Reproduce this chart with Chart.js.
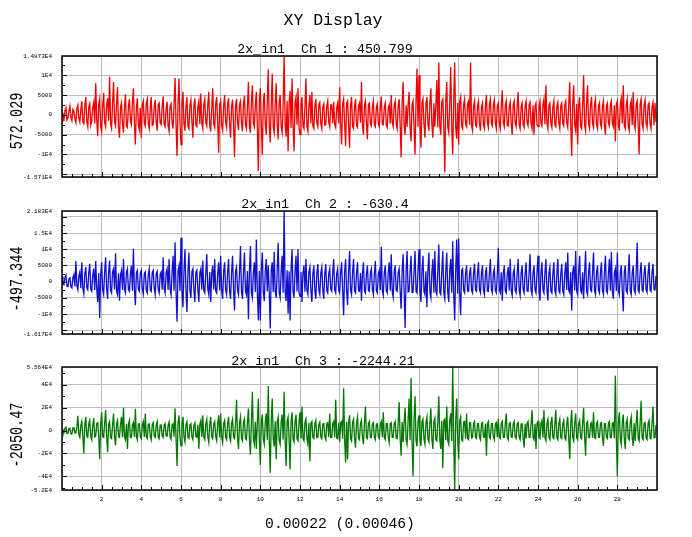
<!DOCTYPE html>
<html>
<head>
<meta charset="utf-8">
<script src="https://cdn.jsdelivr.net/npm/chart.js@4.4.1/dist/chart.umd.min.js"></script>
<style>
html, body { margin: 0; padding: 0; background: #fff; }
#wrap { position: relative; width: 692px; height: 537px; overflow: hidden; }
canvas { position: absolute; left: 0; top: 0; }
.t { position: absolute; font-family: "Liberation Mono", "DejaVu Sans Mono", monospace; color: #000; white-space: pre; transform: translate(-50%, -50%); }
.r { transform: translate(-50%, -50%) rotate(-90deg) scaleY(1.3); }
</style>
</head>
<body>
<div id="wrap">
<canvas id="c1" width="692" height="537"></canvas>
<canvas id="c2" width="692" height="537"></canvas>
<canvas id="c3" width="692" height="537"></canvas>
<div class="t" style="left:333px;top:20px;font-size:16.5px">XY Display</div>
<div class="t" style="left:325px;top:49px;font-size:13.3px">2x_in1  Ch 1 : 450.799</div>
<div class="t" style="left:325px;top:204px;font-size:13.3px">2x_in1  Ch 2 : -630.4</div>
<div class="t" style="left:323px;top:361px;font-size:13.3px">2x_in1  Ch 3 : -2244.21</div>
<div class="t r" style="left:17px;top:121px;font-size:13.5px">572.029</div>
<div class="t r" style="left:17px;top:279px;font-size:13.5px">-497.344</div>
<div class="t r" style="left:17px;top:435px;font-size:13.5px">-2050.47</div>
<div class="t" style="left:340px;top:524px;font-size:14.7px">0.00022 (0.00046)</div>
</div>
<script>
// sample spacing on the x axis, 600 samples per channel
const sampleStep = 0.05;

// x axis grid / labels (bottom panel only shows labels)
const xTicks = [0, 2, 4, 6, 8, 10, 12, 14, 16, 18, 20, 22, 24, 26, 28, 30];
const xTickLabels = ['', '2', '4', '6', '8', '10', '12', '14', '16', '18', '20', '22', '24', '26', '28', ''];

// channel values, in thousands (one row = one x unit)
const ch1 = [
	0.5,-0.6,-1.2,1.0,1.8,-1.3,-0.8,0.9,2.2,-0.7,-1.5,1.4,1.0,-1.1,-2.0,1.6,2.5,-0.9,-1.8,1.2,
	3.5,-1.8,-2.2,2.4,4.5,-1.6,-3.0,2.0,2.8,-2.6,-1.5,1.9,3.2,-2.2,8.0,-1.0,-5.4,2.5,4.0,-2.8,
	-4.2,2.2,5.5,-2.0,-3.0,2.6,4.2,-1.5,9.6,-2.4,-3.5,3.0,8.3,-1.8,-2.8,2.7,7.0,-3.2,-5.8,2.0,
	3.0,-2.4,-4.5,1.9,5.2,-2.8,-3.2,2.3,4.0,-1.7,-2.5,3.1,6.7,-2.2,-7.5,2.0,4.2,-2.6,-3.8,1.8,
	-5.8,2.5,3.5,-2.0,-2.8,2.9,4.0,-2.3,-3.5,1.8,4.5,-2.7,-2.5,2.2,3.8,-1.9,-4.0,2.6,3.0,-2.1,
	-2.5,2.0,4.6,-2.4,-3.0,1.7,3.3,-2.8,-4.2,2.3,2.8,-1.9,-3.5,2.6,9.3,-2.5,-10.4,3.0,9.2,-2.2,
	-7.5,2.8,5.8,-2.3,-4.0,2.1,4.5,-2.9,-3.5,2.4,3.8,-1.8,-5.8,2.5,4.2,-2.6,-3.0,2.0,3.5,-2.4,
	5.4,-2.1,-3.5,2.7,4.0,-1.9,-2.8,2.4,5.8,-2.6,-4.2,2.0,6.7,-2.3,-3.2,2.8,4.5,-2.2,-9.6,2.5,
	3.5,-2.7,-4.0,2.2,5.0,-1.8,-3.2,2.6,4.2,-2.4,-5.8,2.1,3.8,-2.9,-10.7,2.3,4.0,-2.0,-3.8,2.6,
	3.5,-2.2,-4.2,2.9,4.8,-2.5,-3.5,2.0,8.3,-2.8,-4.5,3.2,7.5,-2.1,-3.0,2.7,5.8,-3.0,-14.2,3.4,
	6.7,-2.6,-10.0,3.0,5.5,-2.4,-5.0,3.3,11.5,-2.9,-7.0,2.5,10.4,-3.1,-4.5,2.8,8.0,-2.6,-6.2,3.2,
	5.0,-3.0,-4.5,2.6,15.0,-2.4,-5.5,3.5,-9.2,2.9,6.0,-3.3,9.2,-2.7,-9.2,3.1,4.5,-2.5,6.7,-3.0,
	-5.0,2.6,4.5,-2.8,-3.5,2.2,9.2,-3.0,-4.2,2.5,5.0,-2.2,5.8,-2.9,-3.5,2.4,4.0,-2.1,-3.0,2.7,
	3.2,-2.3,-3.5,2.0,2.8,-2.6,-2.5,2.2,3.5,-1.9,-3.0,2.5,2.5,-2.1,3.3,-2.4,-3.2,1.8,3.0,-2.2,
	7.0,-2.5,-7.5,2.8,4.0,-2.2,-7.9,3.0,3.5,-2.6,-8.3,2.4,4.5,-2.9,-3.5,2.1,4.0,-2.7,-3.2,2.3,
	3.0,-2.0,8.3,-2.6,-5.0,2.4,3.5,-2.1,-6.2,2.7,3.0,-2.3,-2.8,2.0,3.5,-2.5,-3.0,1.9,2.8,-2.2,
	-3.0,2.1,4.6,-2.4,-2.5,2.0,3.0,-2.6,-3.2,1.8,2.5,-2.2,5.0,-2.0,-3.0,2.5,3.5,-2.3,-3.5,2.2,
	4.0,-2.6,-10.8,3.0,8.3,-2.8,-5.0,2.4,-3.0,2.6,5.8,-3.1,-6.7,2.5,3.5,-2.9,-10.0,3.2,11.7,-3.0,
	10.0,-2.7,-8.3,3.1,4.0,-2.5,-5.8,2.8,4.5,-2.4,-4.0,3.0,6.7,-2.6,-5.8,2.9,-3.0,2.4,8.8,-3.2,
	13.2,-3.0,-5.0,3.3,4.0,-2.7,-14.6,3.5,8.3,-3.1,-4.5,2.8,12.1,-3.4,-10.0,3.6,13.2,-3.2,-6.0,3.0,
	-7.5,3.2,4.5,-2.8,-3.5,2.6,4.0,-2.4,-3.0,2.9,3.5,-2.5,13.2,-2.7,-4.0,2.3,3.5,-2.6,-3.0,2.2,
	3.5,-2.4,-4.0,2.0,3.0,-2.6,-3.5,2.3,5.0,-2.1,-3.2,2.7,4.0,-2.2,-2.8,2.5,3.8,-2.0,-3.5,2.4,
	3.0,-2.2,-3.5,2.6,6.2,-2.0,-3.0,2.4,3.5,-2.7,-2.8,2.1,3.2,-2.3,-5.0,2.5,3.5,-2.1,-3.0,2.3,
	5.8,-2.4,-3.5,2.0,3.0,-2.5,-3.2,2.2,3.5,-2.0,-2.8,2.6,3.2,-2.2,-3.5,2.4,-5.0,2.1,3.0,-2.5,
	-3.0,2.3,3.5,-2.1,-2.8,2.6,4.0,-2.4,7.5,-2.0,-3.5,2.5,3.0,-2.2,-3.2,2.0,3.5,-2.6,-3.0,2.3,
	3.2,-2.1,-3.5,2.4,3.0,-2.2,-2.8,2.6,3.5,-2.0,-3.2,2.7,8.3,-2.4,-10.4,3.0,7.5,-2.6,-4.0,2.8,
	-7.5,2.5,4.5,-2.9,-3.5,2.3,10.0,-2.6,-4.0,3.0,7.5,-2.4,-3.5,2.7,4.5,-2.2,-3.2,2.6,4.0,-2.5,
	-3.5,2.2,3.0,-2.4,-3.2,2.0,3.5,-2.6,-5.0,2.3,3.0,-2.1,-2.8,2.5,3.5,-2.2,-3.0,2.4,-6.7,2.6,
	3.5,-2.4,-4.0,2.8,4.2,-2.2,7.5,-2.7,-3.5,2.5,4.0,-2.9,-4.0,2.4,3.5,-2.6,5.8,-2.3,-3.5,2.7,
	3.5,-2.5,-10.0,2.9,4.0,-2.3,-3.5,2.6,3.8,-2.1,-3.2,2.5,3.0,-2.4,-3.5,2.2,3.2,-2.6,3.0,-1.8
];

const ch2 = [
	1.5,-0.8,-1.0,1.2,2.0,-1.4,-1.5,0.9,1.2,-1.6,-2.0,1.3,2.2,-1.5,6.4,-1.2,-2.5,1.8,3.0,-2.0,
	6.0,-2.2,-3.8,2.5,4.5,-1.9,-2.5,2.8,5.5,-2.4,-3.0,2.0,4.0,-2.6,6.4,-2.1,-6.3,2.7,-11.2,2.4,
	6.0,-2.5,-4.0,3.0,7.5,-2.2,-5.3,2.8,6.5,-2.7,-3.5,3.2,4.0,-2.4,8.8,-2.9,-4.0,2.6,-5.9,2.2,
	3.5,-2.6,7.0,-2.3,-3.5,2.9,4.0,-2.5,-3.0,2.4,5.0,-2.8,10.2,-2.2,-7.3,2.7,3.5,-2.4,-3.0,2.6,
	3.5,-2.3,-3.8,2.5,3.0,-2.7,-3.5,2.2,4.0,-2.6,-3.0,2.8,3.5,-2.1,-4.0,2.5,3.2,-2.4,-3.5,2.3,
	3.0,-2.5,7.5,-2.2,-3.5,2.9,4.0,-2.6,7.0,-2.3,-4.0,3.0,8.0,-2.8,12.2,-3.0,-12.4,3.3,5.0,-2.9,
	13.6,-3.1,-7.9,3.4,10.0,-3.0,-9.4,3.2,9.0,-2.8,-5.0,3.1,4.0,-2.7,-6.3,2.9,3.5,-2.6,-6.3,2.8,
	4.0,-2.5,6.5,-2.8,-3.5,2.6,8.5,-2.3,-4.0,3.0,-6.3,2.7,5.0,-2.5,7.0,-2.9,-3.5,2.4,6.0,-2.7,
	8.0,-2.9,-5.3,3.1,6.0,-2.6,-4.0,2.8,7.0,-3.0,-5.3,2.7,8.0,-2.5,-8.9,3.2,4.5,-2.8,-4.0,2.9,
	11.0,-3.2,-5.3,3.0,9.0,-2.9,-4.0,3.3,-11.6,3.1,11.0,-3.4,-5.0,3.0,6.0,-3.2,13.0,-3.5,-12.0,3.3,
	-12.0,3.6,9.0,-3.1,-6.0,3.4,7.0,-3.0,5.0,-3.3,-14.5,3.5,6.0,-3.2,9.2,-3.0,-5.0,3.4,12.0,-3.3,
	-5.0,3.1,8.0,-3.4,22.0,-3.0,-6.0,3.5,-9.9,3.2,-12.0,3.6,10.0,-3.1,-5.0,3.3,8.0,-3.0,10.0,-3.4,
	-4.5,3.0,-6.3,2.8,5.0,-3.1,7.0,-2.7,-4.0,3.0,4.5,-2.9,-6.3,2.6,5.0,-3.0,-5.3,2.8,5.4,-2.6,
	-4.0,2.7,4.5,-2.9,-5.3,2.5,5.4,-2.8,-3.5,2.6,4.0,-2.4,-3.0,2.9,7.0,-2.6,-3.5,2.5,4.0,-2.7,
	-3.5,2.9,6.0,-2.6,-10.4,3.0,7.0,-2.8,-7.3,3.1,9.5,-2.7,-4.0,3.0,7.0,-2.9,-3.5,2.6,6.0,-2.8,
	-3.0,2.7,-5.9,2.5,6.0,-2.9,-3.5,2.4,5.0,-2.7,-3.0,2.8,4.0,-2.5,-4.0,2.6,6.4,-2.8,-3.5,2.5,
	3.5,-2.6,10.8,-2.9,-4.3,3.0,5.0,-2.7,-3.5,2.9,6.0,-2.8,8.5,-3.0,-4.8,3.1,5.0,-2.7,-3.0,2.9,
	4.0,-3.0,-8.4,3.2,8.5,-3.1,-14.3,3.4,9.5,-3.2,-3.0,3.0,8.0,-3.3,-3.3,3.1,9.5,-3.0,-3.5,3.3,
	10.0,-3.2,-6.3,3.4,8.0,-3.0,-4.0,3.2,-7.9,3.5,9.0,-3.3,-5.0,3.1,7.0,-3.4,9.5,-3.1,-4.0,3.3,
	11.5,-3.4,-4.0,3.2,9.5,-3.5,-5.3,3.3,9.0,-3.2,-6.3,3.6,7.0,-3.4,12.5,-3.6,-12.0,3.5,13.0,-3.7,
	13.3,-3.4,-10.4,3.5,4.0,-2.8,-3.5,2.6,5.0,-2.9,-3.0,2.5,4.5,-2.7,-3.5,2.8,5.5,-2.6,-3.0,2.7,
	6.0,-2.5,-3.5,2.8,5.0,-2.6,-4.0,2.4,4.5,-2.9,-3.0,2.6,7.0,-2.5,-3.5,2.7,4.0,-2.8,-3.5,2.5,
	10.5,-2.7,-3.5,2.9,-5.9,2.6,5.0,-2.8,-3.5,2.5,4.5,-2.7,7.0,-2.9,-4.3,2.6,4.0,-2.8,-3.5,2.7,
	7.0,-2.6,-4.3,2.8,5.0,-2.5,-3.5,2.7,6.0,-2.9,-3.0,2.6,8.5,-2.8,-4.0,2.7,5.0,-2.6,-3.5,2.9,
	8.0,-2.7,-5.9,2.9,6.0,-2.6,-3.5,2.8,7.0,-2.5,-5.9,2.7,4.5,-2.9,-3.5,2.6,6.0,-2.8,-4.0,2.5,
	7.0,-2.8,-3.5,2.6,5.5,-2.9,-4.0,2.7,6.0,-2.6,9.0,-2.8,-3.5,2.9,-8.9,3.0,5.0,-2.7,9.5,-2.9,
	-4.0,3.0,8.0,-2.8,-3.5,2.9,-5.3,2.7,9.5,-3.0,-4.0,2.8,6.0,-2.6,-3.0,2.9,9.0,-2.7,-4.0,2.8,
	5.0,-2.6,-3.5,2.9,6.0,-2.7,-4.0,2.8,8.0,-2.9,-3.5,2.6,7.0,-2.8,9.2,-3.0,-5.3,2.7,4.0,-2.9,
	9.0,-2.8,-4.0,2.9,5.0,-2.7,-9.2,3.0,5.0,-2.8,-3.5,2.6,8.5,-2.9,-4.0,2.7,5.0,-2.6,-3.5,2.8,
	12.0,-2.7,-3.3,2.9,6.0,-2.6,-3.0,2.8,5.0,-2.5,-3.3,2.7,6.0,-2.6,-3.0,2.8,5.5,-2.4,-2.5,1.8
];

const ch3 = [
	1.5,-1.8,-2.0,2.2,3.0,-2.6,-2.5,2.0,2.0,-2.9,-3.0,2.4,2.5,-2.1,-2.0,2.8,13.0,-3.5,-6.0,4.5,
	8.0,-5.0,-20.0,5.5,12.0,-4.8,-6.0,6.0,9.0,-5.2,-8.0,4.6,11.0,-5.5,-5.0,6.2,7.0,-4.9,-25.0,5.8,
	16.0,-5.4,-6.0,6.1,18.0,-5.0,-19.0,5.6,8.0,-6.2,-7.0,5.1,15.0,-5.7,-13.0,6.0,9.0,-5.3,-6.0,5.5,
	12.0,-5.8,20.0,-5.2,-8.0,6.0,-16.0,5.4,9.0,-5.9,-6.0,5.2,7.0,-5.6,19.0,-5.1,-8.0,5.8,6.0,-5.4,
	-7.0,5.0,8.0,-5.6,15.0,-5.2,-7.0,5.5,6.0,-4.8,-8.0,5.3,7.0,-5.0,-6.0,4.7,8.0,-5.4,-7.0,4.9,
	5.0,-4.6,-6.0,5.0,6.0,-4.8,-5.0,4.5,7.5,-5.1,-7.5,4.8,6.0,-5.3,19.4,-5.5,-31.0,6.5,13.4,-6.0,
	-13.4,6.2,12.0,-5.8,-10.0,5.5,8.0,-5.9,-7.0,5.2,6.0,-5.6,-8.0,5.0,7.0,-5.4,-6.0,5.1,-16.0,5.7,
	9.0,-5.5,13.4,-5.8,-8.0,6.0,10.0,-5.4,-10.4,5.9,12.0,-5.6,-7.0,6.1,8.0,-5.3,-9.0,5.8,13.4,-6.0,
	15.0,-5.7,-10.4,6.2,9.0,-5.9,-8.0,6.0,12.0,-5.5,-9.0,6.3,10.0,-5.8,-7.0,6.1,27.0,-6.4,-16.0,6.6,
	12.0,-6.8,-9.0,7.0,10.0,-7.2,-8.0,6.9,19.4,-7.4,-21.0,7.6,34.0,-7.5,-12.0,7.8,-16.0,7.3,28.0,-7.7,
	-30.0,8.0,14.0,-7.6,-12.0,7.9,15.0,-8.2,39.0,-8.0,-37.0,8.4,28.0,-7.8,-14.0,8.1,-25.0,7.7,12.0,-8.3,
	-12.0,8.0,14.0,-7.9,34.0,-8.2,-31.0,8.5,12.0,-7.8,-34.0,8.1,16.0,-7.6,-10.0,7.9,14.0,-7.4,-9.0,7.2,
	16.0,-7.0,21.0,-6.8,-9.0,7.1,10.0,-6.6,-12.0,6.9,-27.0,6.5,8.0,-6.3,-7.0,6.0,9.0,-6.2,-6.0,5.8,
	7.5,-5.6,-7.0,5.9,6.0,-5.5,-8.0,6.0,7.0,-5.8,15.0,-6.1,-6.0,6.3,8.0,-6.0,27.0,-6.5,-7.0,6.8,
	-10.0,7.0,8.0,-7.2,37.0,-7.5,-28.0,7.6,-25.0,7.3,13.4,-7.0,-9.0,7.2,10.0,-6.9,-15.0,6.7,12.0,-6.6,
	-8.0,6.4,9.0,-6.2,-12.0,6.5,21.0,-6.0,-7.0,6.2,8.0,-5.9,-6.0,5.7,7.0,-6.0,-8.0,5.8,6.0,-5.5,
	-7.0,5.7,8.0,-5.9,16.0,-6.1,-8.0,6.0,6.0,-5.8,-10.4,6.2,7.0,-6.0,-6.0,6.3,8.0,-6.5,-7.0,6.8,
	25.0,-7.0,-22.0,7.5,-10.0,7.8,20.0,-8.0,-12.0,8.3,28.0,-8.5,46.0,-8.8,-40.0,8.6,30.0,-8.4,-14.0,8.0,
	13.4,-7.8,-13.4,7.6,10.0,-7.5,-12.0,7.2,12.0,-7.4,-10.0,7.0,19.4,-7.6,-16.0,7.8,11.0,-8.0,-9.0,8.2,
	30.0,-8.4,-16.0,8.6,-33.0,8.8,10.0,-8.5,21.0,-8.9,-12.0,9.0,15.0,-9.2,56.0,-9.0,-52.0,9.3,28.0,-8.8,
	-25.0,8.5,12.0,-8.0,-9.0,7.6,8.0,-7.2,15.0,-7.0,-8.0,6.8,7.0,-6.5,-6.0,6.3,8.0,-6.1,-7.0,6.0,
	6.0,-5.8,-8.0,6.0,7.0,-5.7,-6.0,5.9,-22.0,6.1,8.0,-5.8,-7.0,6.0,6.0,-5.6,-8.0,5.9,7.0,-5.7,
	10.4,-5.9,-7.0,6.0,8.0,-5.8,-6.0,6.1,15.0,-5.9,-8.0,6.2,7.0,-5.7,-6.0,6.0,8.0,-5.8,-7.0,5.9,
	7.0,-6.0,-8.0,5.8,6.0,-6.1,-15.0,5.9,-7.0,6.2,8.0,-5.8,-6.0,6.0,18.0,-6.1,-8.0,5.9,-16.0,6.2,
	8.0,-6.0,-7.0,6.3,9.0,-6.1,18.0,-6.2,-9.0,6.4,10.0,-6.0,-8.0,6.3,12.0,-6.1,-7.0,6.2,18.0,-6.3,
	-8.0,6.1,10.0,-6.2,-7.0,6.0,9.0,-6.3,-8.0,6.1,12.0,-6.4,-25.0,6.5,18.0,-6.2,-9.0,6.3,15.0,-6.1,
	-8.0,6.2,9.0,-6.0,-7.0,6.3,20.0,-6.1,-22.0,6.4,8.0,-6.2,-6.0,6.0,7.0,-6.3,16.0,-6.1,-7.0,6.2,
	8.0,-6.0,-6.0,6.3,7.0,-6.1,-13.4,6.2,6.0,-6.0,-7.0,6.4,8.0,-6.2,-6.0,6.5,7.0,-6.8,48.0,-7.0,
	-40.0,7.2,16.0,-7.0,-12.0,6.8,14.0,-6.9,-16.0,7.0,10.0,-6.7,-8.0,6.8,12.0,-6.5,-13.4,6.7,-9.0,6.6,
	18.0,-6.8,-9.0,6.9,26.0,-6.7,-8.0,6.5,7.0,-6.6,-8.0,6.4,9.0,-6.5,-7.0,6.6,21.0,-6.3,-6.0,5.0
];

// y axis ticks (grid lines) and their labels per panel
const y1Ticks = [-15710, -15000, -10000, -5000, 0, 5000, 10000, 14873];
const y1Labels = ['-1.571E4', '', '-1E4', '-5000', '0', '5000', '1E4', '1.4873E4'];
const y2Ticks = [-16170, -15000, -10000, -5000, 0, 5000, 10000, 15000, 20000, 21830];
const y2Labels = ['-1.617E4', '', '-1E4', '-5000', '0', '5000', '1E4', '1.5E4', '', '2.183E4'];
const y3Ticks = [-52000, -40000, -20000, 0, 20000, 40000, 55640];
const y3Labels = ['-5.2E4', '-4E4', '-2E4', '0', '2E4', '4E4', '5.564E4'];

const tickFont = { family: "'Liberation Mono', monospace", size: 6 };

// frame around the plot area plus small inward tick marks
const framePlugin = {
	id: 'frame',
	afterDraw(chart, args, opts) {
		const { ctx, chartArea: a, scales } = chart;
		const x = scales.x, y = scales.y;
		ctx.save();
		ctx.strokeStyle = '#000';
		ctx.lineWidth = 1;
		ctx.beginPath();
		for (let v = 0.5; v < 30; v += 0.5) {
			const px = Math.round(x.getPixelForValue(v)) + 0.5;
			const len = (v % 2 === 0) ? 5 : 3;
			ctx.moveTo(px, a.bottom);
			ctx.lineTo(px, a.bottom - len);
		}
		const step = opts.yMinor;
		for (let v = Math.ceil(y.min / step) * step; v <= y.max; v += step) {
			const py = Math.round(y.getPixelForValue(v)) + 0.5;
			const len = (v % (step * 2) === 0) ? 5 : 3;
			ctx.moveTo(a.left, py);
			ctx.lineTo(a.left + len, py);
		}
		ctx.stroke();
		ctx.lineWidth = 1.5;
		ctx.strokeRect(a.left, a.top, a.right - a.left, a.bottom - a.top);
		ctx.restore();
	}
};

function makePanel(id, values, color, yTicks, yLabels, yMinor, top, bottom, showX) {
	const ctx = document.getElementById(id).getContext('2d');
	const xHeight = showX ? 14 : 0;
	return new Chart(ctx, {
		type: 'line',
		data: {
			datasets: [{
				data: values.map((v, i) => ({ x: i * sampleStep, y: v * 1000 })),
				borderColor: color,
				borderWidth: 1.3,
				pointRadius: 0,
				tension: 0
			}]
		},
		options: {
			responsive: false,
			animation: false,
			events: [],
			layout: { padding: { left: 0, right: 35, top: top, bottom: 537 - bottom - xHeight } },
			plugins: {
				legend: { display: false },
				tooltip: { enabled: false },
				frame: { yMinor: yMinor }
			},
			scales: {
				x: {
					type: 'linear',
					min: 0,
					max: 30,
					afterBuildTicks: s => { s.ticks = xTicks.map(v => ({ value: v })); },
					afterFit: s => { s.height = xHeight; },
					grid: { color: '#bcbcbc', drawTicks: false },
					border: { display: false },
					ticks: {
						display: showX,
						autoSkip: false,
						maxRotation: 0,
						padding: 6,
						color: '#000',
						font: tickFont,
						callback: (v, i) => xTickLabels[i]
					}
				},
				y: {
					min: yTicks[0],
					max: yTicks[yTicks.length - 1],
					afterBuildTicks: s => { s.ticks = yTicks.map(v => ({ value: v })); },
					afterFit: s => { s.width = 62; },
					grid: { color: '#bcbcbc', drawTicks: false },
					border: { display: false },
					ticks: {
						autoSkip: false,
						padding: 10,
						color: '#000',
						font: tickFont,
						callback: (v, i) => yLabels[i]
					}
				}
			}
		},
		plugins: [framePlugin]
	});
}

makePanel('c1', ch1, '#f00000', y1Ticks, y1Labels, 2500, 56, 177, false);
makePanel('c2', ch2, '#1010d0', y2Ticks, y2Labels, 2500, 211, 334, false);
makePanel('c3', ch3, '#007800', y3Ticks, y3Labels, 10000, 367, 490, true);
</script>
</body>
</html>
